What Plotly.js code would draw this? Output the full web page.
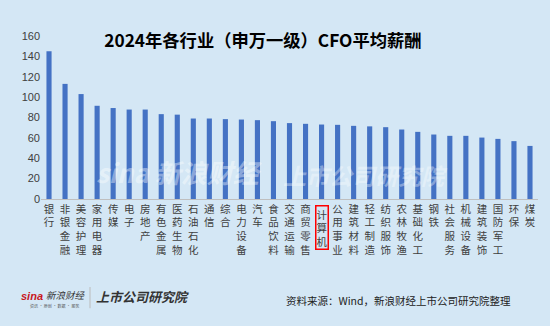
<!DOCTYPE html>
<html>
<head>
<meta charset="utf-8">
<script src="https://cdn.plot.ly/plotly-3.0.1.min.js"></script>
<style>
html,body{margin:0;padding:0;background:#D4E7F5;}
#chart{width:550px;height:326px;}
</style>
</head>
<body>
<div id="chart"></div>
<script>
const industries = ['银行','非银金融','美容护理','家用电器','传媒','电子','房地产','有色金属','医药生物','石油石化','通信','综合','电力设备','汽车','食品饮料','交通运输','商贸零售','计算机','公用事业','建筑材料','轻工制造','纺织服饰','农林牧渔','基础化工','钢铁','社会服务','机械设备','建筑装饰','国防军工','环保','煤炭'];
const cfoPay = [145, 113, 103, 91.5, 89.3, 87.8, 87.8, 83.3, 82.8, 79, 79, 78.4, 78, 77.4, 76.4, 74.5, 73.8, 73.1, 72.8, 71.8, 71.3, 70.5, 68.2, 65.9, 63.3, 62, 62, 60.3, 59, 56.8, 52.1];
const yTicks = [0, 20, 40, 60, 80, 100, 120, 140, 160];
const highlight = '计算机';
const titleText = '2024年各行业（申万一级）CFO平均薪酬';
const sourceText = '资料来源：Wind，新浪财经上市公司研究院整理';

const FONT = '"Noto Sans CJK SC", "Noto Sans", sans-serif';
const BG = '#D4E7F5';
const vert = s => s.split('').join('<br>');
const TICKFONT = {family: FONT, size: 10.5, color: '#404040'};

const trace = {
  type: 'bar',
  x: industries,
  y: cfoPay,
  marker: {color: '#4472C4'},
  hoverinfo: 'none'
};

function note(text, x, y, xanchor, font) {
  return {text: text, x: x, y: y, xref: 'paper', yref: 'paper', xanchor: xanchor, yanchor: 'middle',
          showarrow: false, font: font};
}

const layout = {
  width: 550, height: 326,
  paper_bgcolor: BG, plot_bgcolor: BG,
  margin: {l: 41, r: 12, t: 36, b: 127},
  bargap: 0.68,
  showlegend: false,
  font: {family: FONT, color: '#404040'},
  title: {
    text: '<b>' + titleText + '</b>',
    font: {family: FONT, size: 17.3, color: '#000000'},
    x: 0.478, xanchor: 'center', y: 0.874, yanchor: 'middle'
  },
  xaxis: {
    tickvals: industries,
    ticktext: industries.map(s => s === highlight ? '' : vert(s)),
    tickangle: 0,
    tickfont: TICKFONT,
    showline: true, linecolor: '#BFBFBF', linewidth: 1,
    ticks: '', showgrid: false, zeroline: false
  },
  yaxis: {
    range: [0, 160],
    tickvals: yTicks,
    tickfont: {family: '"Liberation Sans", Arial, sans-serif', size: 11, color: '#404040'},
    showgrid: false, zeroline: false, showline: false, ticks: ''
  },
  annotations: [
    {
      x: highlight, xref: 'x', y: -0.035, yref: 'paper', yanchor: 'top',
      text: vert(highlight), showarrow: false,
      font: TICKFONT,
      bordercolor: '#FF0000', borderwidth: 1.5, borderpad: 0, bgcolor: BG
    },
    note(sourceText, 0.95, -0.62, 'right', {family: FONT, size: 10.5, color: '#222222'}),
    note('<b><i>sina</i></b>', -0.045, -0.595, 'left', {family: '"Liberation Sans", Arial, sans-serif', size: 11, color: '#C8161D'}),
    note('<i>新浪财经</i>', 0.006, -0.59, 'left', {family: FONT, size: 9.5, color: '#333333'}),
    note('资讯 · 原创 · 数据 · 服务', -0.026, -0.655, 'left', {family: FONT, size: 4, color: '#555555'}),
    note('<b><i>上市公司研究院</i></b>', 0.106, -0.6, 'left', {family: FONT, size: 13, color: '#333333'}),
    note('<b><i>sina 新浪财经</i></b>', 0.278, 0.17, 'center', {family: FONT, size: 26, color: 'rgba(255,255,255,0.4)'}),
    note('<b><i>上市公司研究院</i></b>', 0.652, 0.15, 'center', {family: FONT, size: 23, color: 'rgba(255,255,255,0.35)'})
  ],
  shapes: [
    {type: 'line', xref: 'paper', yref: 'paper', x0: 0.0986, x1: 0.0986, y0: -0.54, y1: -0.67,
     line: {color: '#BBBBBB', width: 1}}
  ]
};

Plotly.newPlot('chart', [trace], layout, {staticPlot: true, displayModeBar: false});
</script>
</body>
</html>
